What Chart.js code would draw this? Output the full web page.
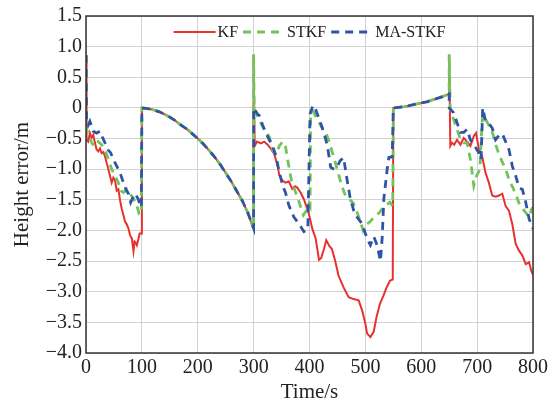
<!DOCTYPE html>
<html>
<head>
<meta charset="utf-8">
<script src="https://cdn.jsdelivr.net/npm/chart.js@4/dist/chart.umd.min.js"></script>
<style>
  html, body { margin: 0; padding: 0; background: #fff; }
  #wrap { width: 559px; height: 408px; }
</style>
</head>
<body>
<div id="wrap"><canvas id="chart"></canvas></div>
<script>
// KF
const kfTime = [0, 1, 4, 7, 10, 13, 16, 19, 22, 25, 28, 31, 34, 37, 40, 43, 46, 49, 52, 55,
  58, 61, 64, 67, 70, 73, 76, 79, 82, 85, 87, 89, 91, 94, 96, 99, 100,
  110, 120, 130, 140, 150, 160, 170, 180, 190, 200, 210, 220, 230, 240, 250, 260, 270, 280, 290, 300,
  300, 302, 306, 313, 319, 325, 331, 337, 343, 346, 352, 357, 363, 369, 374, 378, 384, 390, 399, 405,
  411, 417, 421, 426, 430, 436, 440, 446, 452, 461, 470, 479, 488, 494, 500, 503, 509, 515, 520, 526,
  532, 538, 544, 549, 550,
  560, 570, 580, 590, 600, 610, 620, 630, 640, 650,
  650, 652, 655, 659, 664, 670, 676, 682, 688, 694, 698, 703, 709, 715, 721, 727, 733, 739, 745, 751,
  757, 763, 769, 775, 781, 787, 793, 797, 800];
const kfError = [0.86, -0.52, -0.55, -0.41, -0.49, -0.44, -0.57, -0.68, -0.71, -0.66, -0.74, -0.72, -0.79, -0.9, -1.0, -1.11, -1.22, -1.14, -1.19, -1.35,
  -1.33, -1.51, -1.65, -1.75, -1.86, -1.9, -1.97, -2.08, -2.13, -2.34, -2.18, -2.2, -2.24, -2.13, -2.05, -2.05, 0,
  -0.01, -0.03, -0.06, -0.1, -0.15, -0.21, -0.28, -0.34, -0.42, -0.5, -0.59, -0.69, -0.8, -0.92, -1.06, -1.2, -1.36, -1.52, -1.72, -1.98,
  0.87, -0.62, -0.55, -0.58, -0.55, -0.6, -0.67, -0.75, -0.95, -1.1, -1.19, -1.22, -1.2, -1.32, -1.28, -1.3, -1.38, -1.49, -1.73, -1.97,
  -2.13, -2.48, -2.45, -2.3, -2.16, -2.26, -2.3, -2.5, -2.74, -2.93, -3.09, -3.12, -3.14, -3.3, -3.52, -3.68, -3.74, -3.65, -3.41, -3.2,
  -3.07, -2.93, -2.82, -2.8, 0,
  0.01, 0.02, 0.04, 0.06, 0.08, 0.1, 0.13, 0.16, 0.19, 0.23,
  0.87, -0.62, -0.57, -0.6, -0.52, -0.6, -0.49, -0.55, -0.62, -0.46, -0.41, -0.66, -0.79, -1.06, -1.22, -1.43, -1.45, -1.43, -1.4, -1.6,
  -1.68, -1.9, -2.22, -2.33, -2.41, -2.55, -2.52, -2.66, -2.72];

// STKF
const stkfTime = [0, 1, 2, 6, 10, 16, 22, 28, 34, 40, 46, 52, 58, 62, 67, 73, 79, 85, 91, 95, 99, 100,
  110, 120, 130, 140, 150, 160, 170, 180, 190, 200, 210, 220, 230, 240, 250, 260, 270, 280, 290, 300,
  300, 301, 305, 310, 316, 322, 328, 334, 340, 346, 352, 357, 362, 368, 374, 380, 389, 395, 399, 401,
  402, 406, 412, 421, 430, 436, 440, 445, 451, 457, 463, 470, 478, 485, 491, 496, 502, 508, 514, 520,
  526, 532, 538, 544, 549, 550,
  560, 570, 580, 590, 600, 610, 620, 630, 640, 650,
  650, 652, 658, 664, 670, 676, 682, 688, 694, 699, 705, 708, 710, 716, 722, 728, 734, 740, 746, 752,
  758, 764, 770, 776, 782, 788, 794, 797, 800];
const stkfError = [0.86, -0.3, -0.38, -0.44, -0.57, -0.63, -0.55, -0.6, -0.68, -0.84, -1.0, -1.11, -1.22, -1.35, -1.38, -1.33, -1.4, -1.48, -1.59, -1.73, -1.73, 0,
  -0.01, -0.03, -0.06, -0.1, -0.15, -0.21, -0.28, -0.34, -0.42, -0.5, -0.59, -0.69, -0.8, -0.92, -1.06, -1.2, -1.36, -1.52, -1.72, -1.98,
  0.87, -0.02, -0.1, -0.2, -0.3, -0.4, -0.47, -0.68, -0.76, -0.62, -0.55, -0.63, -0.9, -1.2, -1.35, -1.5, -1.75, -1.67, -1.56, -1.6,
  -0.12, -0.05, -0.15, -0.3, -0.42, -0.57, -0.7, -0.85, -1.05, -1.25, -1.4, -1.48, -1.55, -1.7, -1.85, -2.0, -1.9, -1.86, -1.8, -1.75,
  -1.7, -1.62, -1.58, -1.54, -1.6, 0,
  0.01, 0.02, 0.04, 0.06, 0.08, 0.1, 0.13, 0.16, 0.19, 0.23,
  0.87, -0.03, -0.19, -0.35, -0.51, -0.57, -0.57, -0.84, -1.27, -1.11, -1.0, -0.4, -0.1, -0.2, -0.3, -0.42, -0.62, -0.78, -0.9, -1.02,
  -1.2, -1.3, -1.43, -1.58, -1.65, -1.72, -1.78, -1.66, -1.62];

// MA-STKF
const maTime = [0, 1, 4, 7, 10, 13, 19, 25, 29, 34, 39, 44, 49, 55, 61, 67, 71, 76, 80, 83, 88, 93, 97, 99, 100,
  110, 120, 130, 140, 150, 160, 170, 180, 190, 200, 210, 220, 230, 240, 250, 260, 270, 280, 290, 300,
  300, 307, 310, 316, 322, 328, 334, 340, 346, 352, 357, 363, 372, 381, 390, 397, 401, 406, 410, 414,
  420, 426, 432, 438, 444, 450, 455, 461, 467, 473, 479, 485, 494, 503, 509, 515, 521, 527, 530, 533,
  539, 542, 548, 550,
  560, 570, 580, 590, 600, 610, 620, 630, 640, 650,
  650, 652, 658, 664, 670, 676, 682, 688, 694, 703, 707, 710, 715, 721, 727, 733, 739, 745, 751, 757,
  763, 769, 775, 781, 787, 793, 800];
const maError = [0.86, -0.2, -0.28, -0.22, -0.3, -0.38, -0.41, -0.38, -0.47, -0.57, -0.68, -0.73, -0.84, -0.95, -1.06, -1.22, -1.32, -1.4, -1.54, -1.48, -1.4, -1.48, -1.58, -1.62, 0,
  -0.01, -0.03, -0.06, -0.1, -0.15, -0.21, -0.28, -0.34, -0.42, -0.5, -0.59, -0.69, -0.8, -0.92, -1.06, -1.2, -1.36, -1.52, -1.72, -1.96,
  0.0, -0.1, -0.12, -0.28, -0.41, -0.52, -0.62, -0.79, -1.05, -1.27, -1.38, -1.59, -1.78, -1.89, -2.02, -1.98, -0.1, 0.04, 0.0, -0.1,
  -0.25, -0.41, -0.62, -0.97, -1.0, -0.95, -0.86, -0.81, -1.16, -1.48, -1.67, -1.78, -1.89, -2.13, -2.24, -2.1, -2.24, -2.5, -2.13, -1.49,
  -1.0, -0.81, -0.8, 0,
  0.01, 0.02, 0.04, 0.06, 0.08, 0.1, 0.13, 0.16, 0.19, 0.23,
  0.0, -0.02, -0.08, -0.24, -0.4, -0.4, -0.35, -0.52, -0.6, -0.73, -0.84, 0.0, -0.22, -0.25, -0.33, -0.52, -0.45, -0.42, -0.55, -0.68,
  -0.95, -1.11, -1.3, -1.33, -1.54, -1.81, -1.97];

const xTicks = [0, 100, 200, 300, 400, 500, 600, 700, 800];

function toPoints(times, values) {
  return times.map((t, i) => ({ x: t, y: values[i] }));
}

function tickText(v) {
  if (v === 0) return '0';
  return (v < 0 ? '\u2212' : '') + Math.abs(v).toFixed(1);
}

// legend drawn inside the plot, centred along the top edge
const insideLegend = {
  id: 'insideLegend',
  afterDatasetsDraw(chart) {
    const { ctx, chartArea } = chart;
    const sample = 42, gap = 2, spacing = 5;
    ctx.save();
    ctx.font = '16px "Liberation Serif", serif';
    const items = chart.data.datasets.map(ds => ({ ds: ds, w: ctx.measureText(ds.label).width }));
    let total = spacing * (items.length - 1);
    items.forEach(it => { total += sample + gap + it.w; });
    let x = (chartArea.left + chartArea.right) / 2 - total / 2;
    const y = chartArea.top + 16;
    items.forEach(it => {
      ctx.beginPath();
      ctx.setLineDash(it.ds.borderDash || []);
      ctx.lineWidth = it.ds.borderWidth;
      ctx.strokeStyle = it.ds.borderColor;
      ctx.moveTo(x, y);
      ctx.lineTo(x + sample, y);
      ctx.stroke();
      ctx.setLineDash([]);
      ctx.fillStyle = '#222';
      ctx.textBaseline = 'middle';
      ctx.textAlign = 'left';
      ctx.fillText(it.ds.label, x + sample + gap, y + 1);
      x += sample + gap + it.w + spacing;
    });
    ctx.restore();
  }
};

// box around the plotting area
const frame = {
  id: 'frame',
  afterDraw(chart) {
    const { ctx, chartArea: a } = chart;
    ctx.save();
    ctx.strokeStyle = '#333';
    ctx.lineWidth = 1.5;
    ctx.strokeRect(a.left, a.top, a.right - a.left, a.bottom - a.top);
    ctx.restore();
  }
};

Chart.defaults.font.family = '"Liberation Serif", "Times New Roman", serif';
Chart.defaults.color = '#222';

new Chart(document.getElementById('chart'), {
  type: 'line',
  data: {
    datasets: [
      {
        label: 'KF',
        data: toPoints(kfTime, kfError),
        borderColor: '#e8312f',
        borderWidth: 2,
        order: 3
      },
      {
        label: 'STKF',
        data: toPoints(stkfTime, stkfError),
        borderColor: '#72c35a',
        borderWidth: 2.8,
        borderDash: [8, 6],
        order: 2
      },
      {
        label: 'MA-STKF',
        data: toPoints(maTime, maError),
        borderColor: '#2e55a5',
        borderWidth: 2.8,
        borderDash: [8, 6],
        order: 1
      }
    ]
  },
  options: {
    responsive: true,
    maintainAspectRatio: false,
    animation: false,
    elements: {
      point: { radius: 0 },
      line: { tension: 0, fill: false }
    },
    layout: { padding: { top: 11, right: 26, left: 0, bottom: 0 } },
    plugins: {
      legend: { display: false },
      tooltip: { enabled: false }
    },
    scales: {
      x: {
        type: 'linear',
        min: 0,
        max: 800,
        afterBuildTicks(scale) {
          scale.ticks = xTicks.map(v => ({ value: v }));
        },
        afterFit(scale) { scale.height = 55; },
        grid: { color: '#d2d2d2', lineWidth: 1, drawTicks: false },
        border: { display: false },
        ticks: { font: { size: 20 }, padding: 3, maxRotation: 0 },
        title: { display: true, text: 'Time/s', font: { size: 21 }, padding: { top: 0, bottom: 3 } }
      },
      y: {
        min: -4,
        max: 1.5,
        afterFit(scale) { scale.width = 86; },
        grid: { color: '#d2d2d2', lineWidth: 1, drawTicks: false },
        border: { display: false },
        ticks: { stepSize: 0.5, font: { size: 20 }, padding: 4, callback: tickText },
        title: { display: true, text: 'Height error/m', font: { size: 21 }, padding: { top: 10, bottom: 0 } }
      }
    }
  },
  plugins: [insideLegend, frame]
});
</script>
</body>
</html>
